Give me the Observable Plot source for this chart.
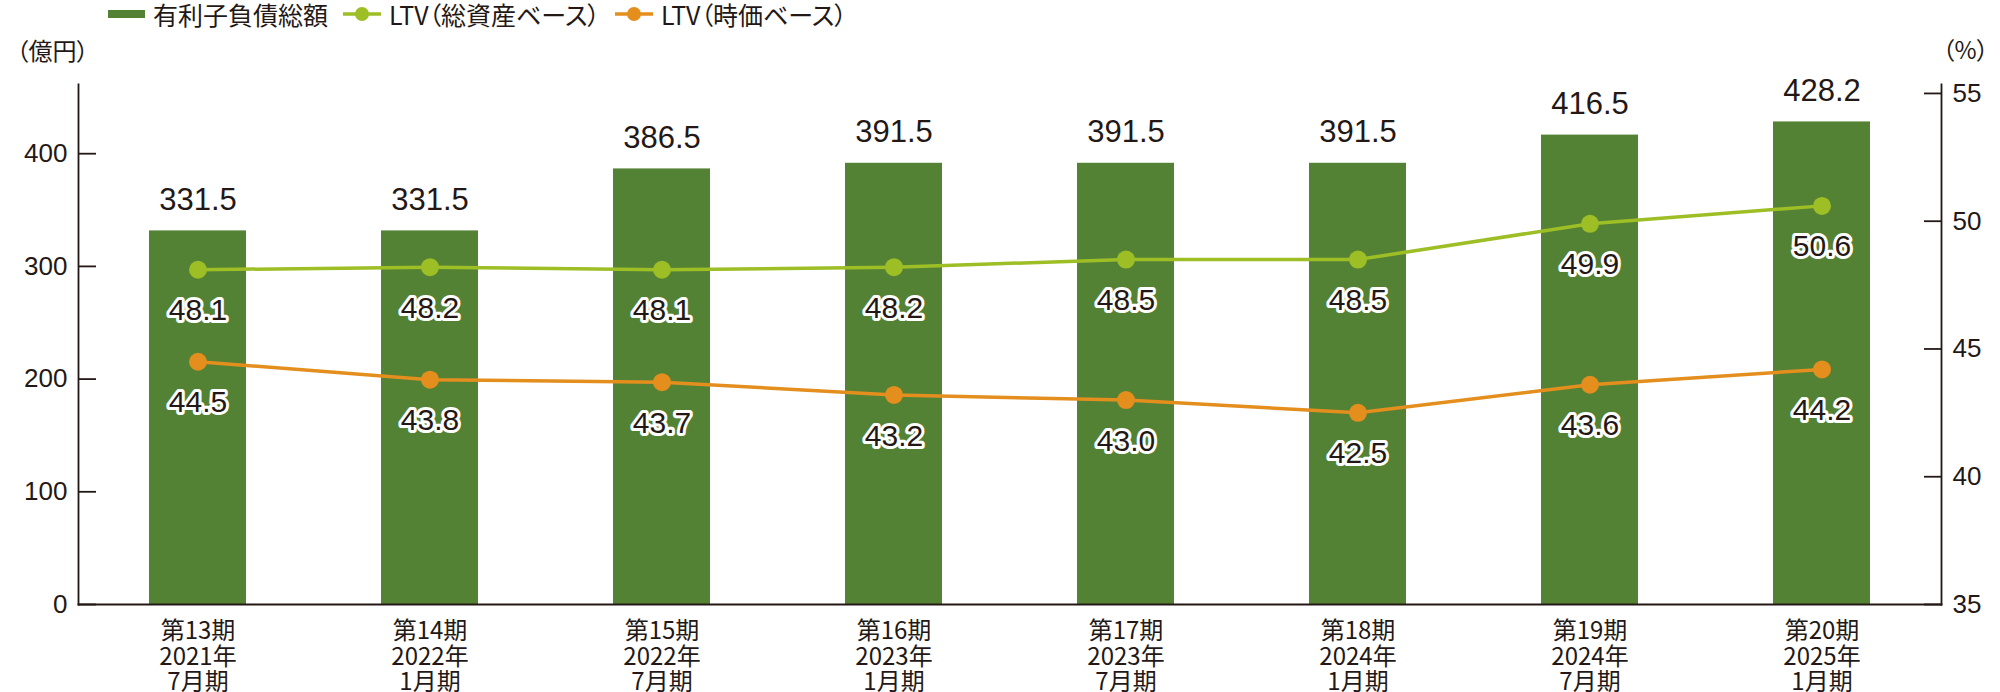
<!DOCTYPE html>
<html lang="ja">
<head>
<meta charset="utf-8">
<script src="https://cdn.jsdelivr.net/npm/d3@7"></script>
<script src="https://cdn.jsdelivr.net/npm/@observablehq/plot@0.6"></script>
<style>
  html, body { margin: 0; padding: 0; background: #fff; }
  body { position: relative; width: 2000px; height: 692px; overflow: hidden; color: #231815; }
  #legend {
    position: absolute; top: 1px; left: 108px; height: 26px;
    display: flex; align-items: center;
    font-family: "Noto Sans CJK JP", sans-serif; font-size: 25px;
    font-feature-settings: "palt"; color: #231815; white-space: nowrap;
  }
  .item { display: flex; align-items: center; margin-right: 15px; }
  .item span { margin-left: 8px; line-height: 25px; }
  .bar-sw { width: 37px; height: 8px; }
  #chart svg { display: block; }
</style>
</head>
<body>
<div id="legend"></div>
<div id="chart"></div>
<script>
// ---- data ----
const periods = ["第13期","第14期","第15期","第16期","第17期","第18期","第19期","第20期"];
const years   = ["2021年","2022年","2022年","2023年","2023年","2024年","2024年","2025年"];
const months  = ["7月期","1月期","7月期","1月期","7月期","1月期","7月期","1月期"];
const debt      = [331.5, 331.5, 386.5, 391.5, 391.5, 391.5, 416.5, 428.2];
const ltvAsset  = [48.1, 48.2, 48.1, 48.2, 48.5, 48.5, 49.9, 50.6];
const ltvMarket = [44.5, 43.8, 43.7, 43.2, 43.0, 42.5, 43.6, 44.2];
const leftTicks  = [0, 100, 200, 300, 400];
const rightTicks = [35, 40, 45, 50, 55];
const leftDomain  = [0, 461.4];
const rightDomain = [35, 55.35];
const seriesNames = ["有利子負債総額", "LTV（総資産ベース）", "LTV（時価ベース）"];
const unitLeft = "（億円）";
const unitRight = "（%）";

// ---- styles ----
const colBar = "#548235", colAsset = "#9dbe25", colMarket = "#e48e1e", ink = "#231815";
const numFont = "'Liberation Sans', Arial, sans-serif";
const jpFont = "'Noto Sans CJK JP', sans-serif";

// map a percent value onto the left (億円) scale
const toLeft = p => (p - rightDomain[0]) / (rightDomain[1] - rightDomain[0]) * (leftDomain[1] - leftDomain[0]) + leftDomain[0];
const fromLeft = v => (v - leftDomain[0]) / (leftDomain[1] - leftDomain[0]) * (rightDomain[1] - rightDomain[0]) + rightDomain[0];

const rows = periods.map((p, i) => ({
  p, label: `${p}\n${years[i]}\n${months[i]}`,
  debt: debt[i], a: ltvAsset[i], m: ltvMarket[i]
}));

// ---- legend ----
const legend = document.getElementById("legend");
const sw = [
  `<div class="bar-sw" style="background:${colBar}"></div>`,
  `<svg width="38" height="20"><line x1="0" y1="10" x2="38" y2="10" stroke="${colAsset}" stroke-width="3.5"/><circle cx="19" cy="10" r="7" fill="${colAsset}"/></svg>`,
  `<svg width="38" height="20"><line x1="0" y1="10" x2="38" y2="10" stroke="${colMarket}" stroke-width="3.5"/><circle cx="19" cy="10" r="7" fill="${colMarket}"/></svg>`
];
legend.innerHTML = seriesNames.map((n, i) => `<div class="item">${sw[i]}<span>${n}</span></div>`).join("");

// ---- chart ----
const pointLabel = (key) => Plot.text(rows, {
  x: "p", y: d => toLeft(d[key]), text: d => d[key].toFixed(1),
  dy: 41, lineAnchor: "middle", fontSize: 30, fontFamily: numFont,
  fill: ink, stroke: "white", strokeWidth: 6, strokeLinejoin: "round"
});

const chart = Plot.plot({
  width: 2000, height: 692,
  marginTop: 84, marginBottom: 88, marginLeft: 78, marginRight: 59,
  style: { fontFamily: jpFont, color: ink, background: "white", fontFeatureSettings: "'palt'" },
  x: { domain: periods, paddingInner: 0.58, paddingOuter: 0.29, axis: null },
  y: { domain: leftDomain, label: null },
  marks: [
    Plot.barY(rows, { x: "p", y: "debt", fill: colBar }),
    Plot.text(rows, { x: "p", y: "debt", text: d => d.debt.toFixed(1), dy: -31, lineAnchor: "middle",
      fontSize: 31, fontFamily: numFont, fill: ink }),
    Plot.line(rows, { x: "p", y: d => toLeft(d.a), stroke: colAsset, strokeWidth: 3.5 }),
    Plot.line(rows, { x: "p", y: d => toLeft(d.m), stroke: colMarket, strokeWidth: 3.5 }),
    Plot.dot(rows, { x: "p", y: d => toLeft(d.a), r: 9, fill: colAsset }),
    Plot.dot(rows, { x: "p", y: d => toLeft(d.m), r: 9, fill: colMarket }),
    pointLabel("a"),
    pointLabel("m"),
    Plot.frame({ anchor: "left", stroke: ink, strokeWidth: 1.8 }),
    Plot.frame({ anchor: "right", stroke: ink, strokeWidth: 1.8 }),
    Plot.frame({ anchor: "bottom", stroke: ink, strokeWidth: 1.8 }),
    Plot.axisY(leftTicks, { anchor: "left", tickSize: -18, tickPadding: 29, strokeWidth: 1.8,
      fontSize: 26, fontFamily: numFont, label: null, tickFormat: d => String(d) }),
    Plot.axisY(rightTicks.map(toLeft), { anchor: "right", tickSize: -18, tickPadding: 29, strokeWidth: 1.8,
      fontSize: 26, fontFamily: numFont, label: null, tickFormat: v => String(Math.round(fromLeft(v))) }),
    Plot.text(rows, { x: "p", text: "label", frameAnchor: "bottom", lineAnchor: "middle", dy: 52,
      lineHeight: 1.07, fontSize: 24, fontFamily: jpFont, fill: ink }),
    Plot.text([unitLeft], { text: d => d, frameAnchor: "top-left", textAnchor: "start", lineAnchor: "middle",
      dx: -62, dy: -32, fontSize: 24, fill: ink }),
    Plot.text([unitRight], { text: d => d, frameAnchor: "top-right", textAnchor: "middle", lineAnchor: "middle",
      dx: 24, dy: -33, fontSize: 24, fill: ink })
  ]
});
document.getElementById("chart").appendChild(chart);
</script>
</body>
</html>
